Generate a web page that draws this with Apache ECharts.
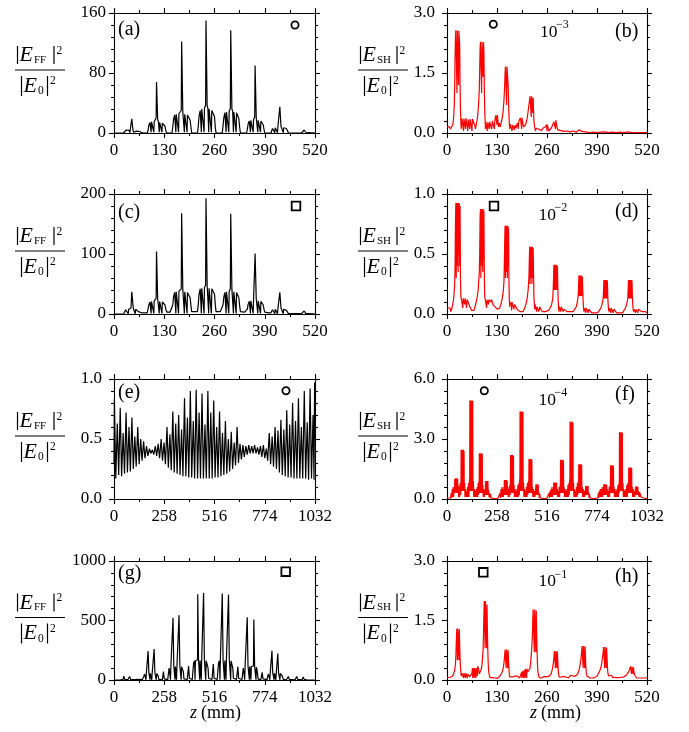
<!DOCTYPE html>
<html><head><meta charset="utf-8">
<script src="https://cdn.jsdelivr.net/npm/echarts@6/dist/echarts.min.js"></script>
<style>html,body{margin:0;padding:0;background:#fff}#c{width:689px;height:732px}</style>
</head><body><div id="c"></div>
<script>
// ---------- tick labels ----------
const xTicks520 = [0,130,260,390,520];
const xTicks1032 = [0,258,516,774,1032];
const yTicksA = [0,80,160];
const yTicksB = [0,1.5,3.0];
const yTicksC = [0,100,200];
const yTicksD = [0,0.5,1.0];
const yTicksE = [0,0.5,1.0];
const yTicksF = [0,3.0,6.0];
const yTicksG = [0,500,1000];
const yTicksH = [0,1.5,3.0];
const panelLabels = ['(a)','(b)','(c)','(d)','(e)','(f)','(g)','(h)'];
const scaleExp = {b:'\u22123', d:'\u22122', f:'\u22124', h:'\u22121'};

// ---------- data [z (mm), value] ----------
const dataA = [[0,0],[25,0.3],[29,2],[32,4],[36,4.5],[39,3.5],[41,0.5],[42,4],[44,5],[46,19],[48,18],[49,4],[51,1],[52,2.5],[58,2.5],[60,0.3],[61,2],[66,2],[69,0.3],[75,0],
[86,0],[88,3],[90,10],[93,14],[95,15],[96,1],[97,15],[101,16],[103,1],[104,15],[107,16],[109,20],[110,68],[111.5,67],[113,18],[115,15],[117,1],[118,14],[122,13],[124,1],[125,13],[129,12],[132,9],[134,3],[137,0],
[150,0],[152,8],[154,18],[157,24],[159,25],[160,1],[161,25],[165,26],[167,1],[168,26],[172,27],[174,30],[175,122],[176.5,121],[178,28],[180,26],[182,1],[183,25],[187,24],[189,1],[190,24],[194,22],[197,17],[199,8],[201,0],
[216,0],[218,9],[220,22],[223,30],[225,31],[226,1],[227,32],[231,32],[233,1],[234,33],[236,34],[237,37],[238,150],[239.5,149],[241,36],[243,33],[245,1],[246,32],[250,31],[252,1],[253,30],[257,28],[260,22],[262,8],[264,0],
[280,0],[282,9],[284,20],[287,27],[289,28],[290,1],[291,28],[295,29],[297,1],[298,29],[300,30],[301,33],[302,137],[303.5,136],[305,32],[307,29],[309,1],[310,28],[314,28],[316,1],[317,27],[321,25],[323,19],[325,8],[327,0],
[343,0],[345,5],[347,12],[350,16],[352,17],[353,1],[354,17],[358,18],[360,1],[361,18],[363,19],[364,21],[365,90],[366.5,89],[368,20],[370,18],[372,1],[373,17],[377,17],[379,1],[380,16],[384,15],[386,11],[388,5],[390,0],
[406,0],[408,3],[410,6],[413,7],[415,7],[416,0.5],[417,7],[421,7.5],[423,0.5],[424,8],[428,9],[429,35],[430.5,34],[432,9],[436,7],[438,0.5],[439,7],[443,7],[446,6],[449,3],[451,0],
[485,0],[489,1],[492,4],[494,4],[496,1],[500,0],[520,0]];

const dataC = [[0,0],[25,0],[27,3],[30,7],[34,8],[37,0.5],[38,8],[42,8],[44,10],[46,37],[48,36],[50,9],[53,8],[55,0.5],[56,8],[60,7],[63,4],[66,2],[72,2],[80,2],
[86,2],[88,8],[90,15],[93,20],[95,21],[96,1],[97,21],[101,22],[103,1],[104,22],[107,23],[109,26],[110,104],[111.5,103],[113,25],[115,22],[117,1],[118,21],[122,21],[124,1],[125,20],[129,19],[132,15],[134,8],[137,3],[145,3],
[150,3],[152,15],[154,28],[157,36],[159,37],[160,1],[161,37],[165,38],[167,1],[168,38],[172,39],[174,42],[175,168],[176.5,167],[178,41],[180,38],[182,1],[183,37],[187,37],[189,1],[190,36],[194,34],[197,27],[199,14],[201,4],[210,4],
[216,4],[218,16],[220,33],[223,42],[225,43],[226,1],[227,43],[231,44],[233,1],[234,44],[236,45],[237,48],[238,193],[239.5,192],[241,47],[243,44],[245,1],[246,43],[250,43],[252,1],[253,42],[257,40],[260,33],[262,16],[264,4],[275,4],
[280,4],[282,15],[284,28],[287,36],[289,37],[290,1],[291,37],[295,38],[297,1],[298,38],[300,39],[301,42],[302,167],[303.5,166],[305,41],[307,38],[309,1],[310,37],[314,37],[316,1],[317,36],[321,34],[323,27],[325,14],[327,4],[338,3],
[343,3],[345,8],[347,16],[350,21],[352,22],[353,1],[354,22],[358,23],[360,1],[361,23],[363,24],[364,26],[365,101],[366.5,100],[368,25],[370,23],[372,1],[373,22],[377,22],[379,1],[380,21],[384,20],[386,15],[388,8],[390,3],[400,2],
[406,2],[408,5],[410,7],[413,8],[415,8],[416,0.5],[417,8],[421,8],[423,0.5],[424,9],[428,10],[429,36],[430.5,35],[432,10],[436,8],[438,0.5],[439,8],[443,8],[446,6],[449,3],[451,1],
[485,0.5],[489,1],[492,5],[494,5],[496,1],[500,0],[520,0]];

const dataE = [[0,0.3],[2,0.83],[9,0.17],[17,0.63],[24,0.2],[32,0.76],[39,0.19],[47,0.55],[54,0.21],[62,0.72],[69,0.22],[77,0.6],[84,0.23],[92,0.68],[99,0.25],
[107,0.52],[114,0.27],[122,0.6],[129,0.29],[137,0.5],[144,0.32],[152,0.48],[159,0.34],[167,0.44],[174,0.36],[182,0.42],[189,0.38],[197,0.41],[204,0.37],
[212,0.44],[219,0.36],[227,0.46],[234,0.34],[242,0.5],[249,0.32],[257,0.47],[264,0.29],[272,0.6],[279,0.26],[287,0.54],[294,0.24],[302,0.73],[309,0.22],
[317,0.63],[324,0.21],[332,0.7],[339,0.2],[347,0.58],[354,0.19],[362,0.84],[369,0.19],[377,0.68],[384,0.18],[392,0.9],[399,0.18],[407,0.65],[414,0.17],
[422,0.91],[429,0.17],[437,0.72],[444,0.17],[452,0.88],[459,0.17],[467,0.62],[474,0.17],[482,0.9],[489,0.17],[497,0.72],[504,0.17],[512,0.82],[519,0.18],
[527,0.6],[534,0.18],[542,0.73],[549,0.19],[557,0.55],[564,0.2],[572,0.65],[579,0.21],[587,0.5],[594,0.23],[602,0.56],[609,0.25],[617,0.47],[624,0.28],
[632,0.6],[639,0.3],[647,0.46],[654,0.33],[662,0.45],[669,0.35],[677,0.44],[684,0.37],[692,0.45],[699,0.38],[707,0.44],[714,0.38],[722,0.45],[729,0.38],
[737,0.43],[744,0.37],[752,0.44],[759,0.35],[767,0.45],[774,0.34],[782,0.42],[789,0.32],[797,0.55],[804,0.29],[812,0.52],[819,0.27],[827,0.6],[834,0.25],
[842,0.57],[849,0.22],[857,0.66],[864,0.2],[872,0.58],[879,0.19],[887,0.74],[894,0.18],[902,0.62],[909,0.18],[917,0.8],[924,0.17],[932,0.65],[939,0.17],
[947,0.84],[954,0.17],[962,0.6],[969,0.17],[977,0.9],[984,0.17],[992,0.64],[999,0.16],[1007,0.92],[1014,0.17],[1022,0.7],[1027,0.16],[1030,0.97],[1032,0.5]];

const dataG = [[0,0],[35,1],[44,3],[48,8],[50,33],[52,31],[55,6],[72,4],[78,10],[80,30],[82,28],[85,6],[110,3],[122,6],[125,15],[127,14],[130,4],[145,3],
[150,3],[153,30],[157,50],[162,55],[164,2],[166,55],[171,56],[174,60],[175,243],[177,240],[179,60],[183,56],[185,2],[187,56],[192,57],[194,2],[196,57],[201,58],[205,62],[206,260],[208,257],[210,61],[215,56],[217,2],[219,55],[224,52],[227,35],[230,5],[235,3],
[248,3],[252,10],[254,70],[256,68],[258,10],[262,3],
[276,3],[279,50],[283,100],[288,112],[290,3],[292,112],[298,113],[302,120],[303,522],[305,518],[307,120],[311,113],[313,3],[315,113],[319,114],[321,3],[323,114],[328,115],[333,122],[334,545],[336,540],[338,120],[343,112],[345,3],[347,111],[352,105],[356,70],[359,10],[362,4],
[376,4],[380,15],[383,117],[385,114],[387,15],[391,4],
[402,4],[405,70],[409,145],[414,162],[416,3],[418,162],[424,163],[429,170],[430,720],[432,715],[434,170],[438,163],[440,3],[442,164],[446,164],[448,3],[450,164],[455,165],[459,172],[460,732],[462,728],[464,172],[469,163],[471,3],[473,162],[479,150],[483,100],[486,15],[489,4],
[503,4],[507,15],[510,134],[512,130],[514,15],[518,4],
[530,4],[533,70],[537,145],[542,162],[544,3],[546,163],[552,164],[555,170],[556,726],[558,722],[560,170],[565,164],[567,3],[569,164],[573,164],[575,3],[577,163],[582,163],[587,170],[588,718],[590,714],[592,170],[597,162],[599,3],[601,161],[606,150],[610,100],[613,15],[616,4],
[629,4],[633,15],[636,112],[638,110],[640,15],[644,4],
[657,4],[660,50],[664,100],[669,112],[671,3],[673,112],[679,113],[683,120],[684,528],[686,524],[688,120],[693,113],[695,3],[697,113],[701,113],[703,3],[705,112],[711,112],[716,118],[718,508],[720,504],[722,118],[727,110],[729,3],[731,108],[734,90],[737,50],[740,8],[743,3],
[754,3],[758,10],[761,64],[763,62],[765,10],[769,3],
[786,3],[789,30],[793,50],[798,56],[800,2],[802,56],[807,57],[810,60],[811,246],[813,242],[815,60],[820,57],[822,2],[824,57],[829,57],[831,2],[833,57],[838,58],[840,61],[841,223],[843,220],[845,60],[850,56],[852,2],[854,55],[860,50],[865,30],[869,5],[873,2],
[885,2],[892,8],[895,30],[897,28],[900,6],[930,2],[935,8],[938,30],[940,28],[943,6],[965,2],[969,6],[972,25],[974,23],[977,5],[990,1],[1032,0]];

const dataB = [[0,0.15],[3,0.12],[6,0.16],[9,0.1],[12,0.13],[15,0.2],[17,0.35],[19,0.7],[20,1.2],[21,1.9],[22,2.4],[23,2.57],[25,2.57],[26,1.0],[27,2.56],[29,2.57],[30,1.2],[31,2.55],[32,2.56],[33,2.2],[34,1.2],[35,0.6],[36,0.3],[37,0.1],[38,0.05],
[39,0.36],[42,0.37],[43,0.05],[44,0.36],[47,0.35],[48,0.1],[49,0.37],[53,0.35],[54,0.05],[55,0.34],[58,0.36],[59,0.1],[60,0.35],[64,0.34],[65,0.05],[66,0.35],[70,0.33],[72,0.2],[74,0.1],[76,0.2],[78,0.3],[80,0.45],[82,0.7],[84,1.1],[85,1.6],[86,2.1],[87,2.28],[89,2.29],[90,1.0],[91,2.28],[93,2.29],[94,1.4],[95,2.27],[96,2.0],[97,1.2],[98,0.6],[99,0.35],
[100,0.1],[101,0.28],[104,0.3],[105,0.05],[106,0.27],[109,0.3],[110,0.1],[111,0.28],[114,0.25],[116,0.1],[118,0.3],[121,0.28],[123,0.1],[125,0.35],[127,0.44],[129,0.46],[130,0.2],[131,0.45],[133,0.44],[134,0.15],[136,0.25],[138,0.15],[140,0.2],[142,0.3],[144,0.4],[146,0.55],[148,0.8],[150,1.2],[151,1.5],[152,1.66],[154,1.66],[155,0.7],[156,1.66],[158,1.65],[159,1.2],[160,0.8],[161,0.45],[162,0.25],[163,0.1],
[165,0.22],[167,0.18],[169,0.05],[171,0.2],[173,0.15],[175,0.08],[177,0.2],[179,0.12],[181,0.18],[183,0.25],[185,0.1],[187,0.3],[189,0.28],[191,0.38],[193,0.4],[194,0.1],[195,0.38],[197,0.35],[199,0.15],[201,0.1],[203,0.15],[205,0.22],[207,0.3],[209,0.4],[211,0.55],[213,0.7],[215,0.85],[216,0.92],[218,0.91],[219,0.4],[220,0.92],[222,0.9],[223,0.5],[224,0.88],[225,0.6],[226,0.3],[228,0.15],
[230,0.05],[232,0.12],[234,0.08],[236,0.15],[238,0.1],[240,0.05],[243,0.1],[246,0.06],[249,0.12],[252,0.08],[255,0.15],[257,0.2],[259,0.21],[260,0.05],[261,0.2],[263,0.12],[265,0.05],[268,0.08],[271,0.12],[274,0.18],[276,0.22],[278,0.28],[279,0.33],[281,0.33],[282,0.1],[283,0.32],[285,0.3],[286,0.15],[288,0.08],[290,0.05],
[293,0.03],[296,0.06],[300,0.02],[304,0.04],[308,0.02],[312,0.05],[316,0.07],[320,0.03],[324,0.02],[328,0.05],[332,0.03],[336,0.02],[340,0.05],[344,0.08],[347,0.09],[350,0.04],[354,0.02],[360,0.03],[370,0.01],[380,0.02],[390,0.01],[400,0.02],[410,0.03],[420,0.01],[430,0.02],[440,0.01],[450,0.02],[460,0.01],[470,0.03],[474,0.02],[480,0.01],[490,0.01],[500,0.01],[510,0.01],[520,0.01]];

const dataD = [[0,0.05],[4,0.04],[8,0.05],[10,0.02],[13,0.05],[16,0.1],[18,0.15],[20,0.25],[21,0.4],[22,0.75],[23,0.925],[24,0.3],[25,0.925],[26,0.4],[27,0.925],[28,0.92],[29,0.35],[30,0.925],[31,0.5],[32,0.92],[33,0.4],[34,0.9],[35,0.3],[36,0.15],[37,0.13],[40,0.14],[41,0.05],[42,0.13],[45,0.14],[46,0.08],[47,0.13],[50,0.12],[51,0.05],[52,0.12],[55,0.1],[58,0.07],[61,0.05],[64,0.03],[67,0.02],[70,0.03],[73,0.06],[76,0.1],[79,0.15],[81,0.2],[83,0.3],[84,0.35],[85,0.5],[86,0.8],[87,0.875],[88,0.3],[89,0.875],[90,0.4],[91,0.875],[92,0.87],[93,0.35],[94,0.875],[95,0.45],[96,0.86],[97,0.35],[98,0.15],[99,0.13],
[102,0.12],[103,0.05],[104,0.12],[107,0.13],[108,0.08],[109,0.12],[113,0.1],[116,0.12],[119,0.08],[122,0.07],[125,0.06],[128,0.05],[131,0.04],[134,0.03],[137,0.05],[140,0.08],[143,0.12],[146,0.18],[148,0.26],[149,0.4],[150,0.6],[151,0.735],[152,0.3],[153,0.735],[154,0.35],[155,0.735],[156,0.73],[157,0.3],[158,0.735],[159,0.4],[160,0.72],[161,0.3],[162,0.12],[163,0.06],[164,0.1],[167,0.08],[168,0.03],[169,0.1],[172,0.09],[174,0.04],[176,0.08],[179,0.06],[182,0.04],[186,0.05],[190,0.02],[194,0.03],[198,0.02],
[202,0.05],[205,0.08],[208,0.12],[211,0.2],[213,0.3],[214,0.45],[215,0.56],[216,0.25],[217,0.56],[218,0.3],[219,0.56],[220,0.55],[221,0.25],[222,0.56],[223,0.3],[224,0.55],[225,0.35],[226,0.15],[227,0.08],[228,0.04],[229,0.08],[232,0.07],[233,0.02],[234,0.06],[237,0.05],[239,0.02],[241,0.06],[244,0.04],[248,0.02],[252,0.01],[256,0.02],[260,0.01],[264,0.03],[268,0.05],[272,0.08],[275,0.13],[276,0.2],[277,0.3],[278,0.41],[279,0.2],[280,0.41],[281,0.2],[282,0.41],[283,0.4],[284,0.2],[285,0.41],[286,0.2],[287,0.4],[288,0.25],[289,0.12],[290,0.06],[291,0.02],[292,0.06],[295,0.05],[296,0.02],[297,0.06],
[300,0.05],[302,0.02],[304,0.04],[308,0.03],[312,0.02],[316,0.01],[320,0.02],[324,0.01],[328,0.02],[332,0.04],[336,0.06],[339,0.1],[341,0.15],[342,0.22],[343,0.32],[344,0.15],[345,0.32],[346,0.15],[347,0.32],[348,0.31],[349,0.15],[350,0.32],[351,0.15],[352,0.31],[353,0.2],[354,0.1],[355,0.05],[356,0.02],[357,0.05],[360,0.05],[361,0.01],[362,0.05],[365,0.04],[367,0.01],[369,0.04],[372,0.03],[376,0.01],[380,0.02],[384,0.01],[388,0.02],[392,0.01],[396,0.03],
[400,0.05],[403,0.08],[405,0.11],[406,0.13],[407,0.2],[408,0.284],[409,0.13],[410,0.284],[411,0.13],[412,0.284],[413,0.28],[414,0.13],[415,0.284],[416,0.13],[417,0.28],[418,0.15],[419,0.08],[420,0.04],[421,0.02],[422,0.05],[425,0.05],[426,0.01],[427,0.05],[430,0.04],[432,0.01],[434,0.04],[437,0.03],[441,0.01],[445,0.02],[449,0.01],[453,0.02],[457,0.01],[460,0.03],[464,0.05],[467,0.08],[469,0.11],[470,0.13],[471,0.2],[472,0.284],[473,0.13],[474,0.284],[475,0.13],[476,0.284],[477,0.28],[478,0.13],[479,0.284],[480,0.13],[481,0.28],[482,0.15],[483,0.08],[484,0.04],[485,0.02],[486,0.04],[489,0.04],[490,0.01],[491,0.04],[494,0.04],[496,0.01],[498,0.04],[502,0.03],[506,0.02],[510,0.02],[515,0.02],[520,0.01]];

const dataF = [[0,0.05],[10,0.08],[18,0.05],[22,0.3],[24,0.05],[27,0.5],[29,0.1],[32,0.6],[34,0.1],[37,0.5],[39,0.3],
[40,1.0],[41,1.04],[42,0.3],[43,1.04],[44,1.04],[45,0.3],[46,1.04],[47,1.04],[48,0.3],[49,1.04],[50,1.04],[51,0.3],[52,1.04],[53,1.04],[54,0.3],[55,1.0],[56,0.3],
[58,0.7],[60,0.1],[63,0.6],[65,0.1],[68,0.8],[70,0.2],[72,0.4],
[73,2.46],[74,2.46],[75,0.4],[76,2.46],[77,2.46],[78,0.4],[79,2.46],[80,2.46],[81,0.4],[82,2.46],[83,2.46],[84,0.4],[85,2.46],[86,2.46],[87,0.4],[88,2.4],[89,0.4],
[91,0.8],[93,0.1],[96,0.5],[98,0.1],[101,0.4],[103,0.1],[106,0.6],[108,0.1],[111,0.8],[113,0.1],[116,1.0],[117,0.4],
[118,4.93],[119,4.93],[120,0.4],[121,4.93],[122,4.93],[123,0.4],[124,4.93],[125,4.93],[126,0.4],[127,4.93],[128,4.93],[129,0.4],[130,4.93],[131,4.93],[132,0.4],[133,4.9],[134,0.4],
[136,0.9],[138,0.1],[141,0.5],[143,0.1],[146,0.4],[148,0.1],[151,0.5],[153,0.1],[156,0.6],[158,0.1],[161,0.8],[163,0.2],[165,0.9],[166,0.3],
[167,2.29],[168,2.29],[169,0.3],[170,2.29],[171,2.29],[172,0.3],[173,2.29],[174,2.29],[175,0.3],[176,2.29],[177,2.29],[178,0.3],[179,2.29],[180,2.29],[181,0.3],[182,2.25],[183,0.3],
[185,0.7],[187,0.1],[190,0.5],[192,0.1],[195,0.4],[197,0.2],
[199,0.9],[200,0.9],[201,0.2],[202,0.9],[203,0.9],[204,0.2],[205,0.9],[206,0.9],[207,0.2],[208,0.9],[209,0.9],[210,0.2],[211,0.9],[212,0.85],[213,0.2],
[215,0.45],[217,0.1],[220,0.3],[222,0.05],[225,0.25],[227,0.05],[230,0.15],[234,0.03],[245,0.02],[262,0.02],
[270,0.05],[274,0.3],[276,0.05],[279,0.5],[281,0.1],[284,0.6],[286,0.1],[289,0.5],[291,0.1],[294,0.6],[295,0.3],
[296,0.95],[297,0.95],[298,0.2],[299,0.95],[300,0.95],[301,0.2],[302,0.95],[303,0.95],[304,0.2],[305,0.95],[306,0.95],[307,0.2],[308,0.95],[309,0.95],[310,0.2],[311,0.9],[312,0.2],
[314,0.6],[316,0.1],[319,0.5],[321,0.1],[324,0.7],[326,0.2],[327,0.4],
[328,2.2],[329,2.2],[330,0.3],[331,2.2],[332,2.2],[333,0.3],[334,2.2],[335,2.2],[336,0.3],[337,2.2],[338,2.2],[339,0.3],[340,2.2],[341,2.2],[342,0.3],[343,2.15],[344,0.3],
[346,0.7],[348,0.1],[351,0.5],[353,0.1],[356,0.4],[358,0.1],[361,0.5],[363,0.1],[366,0.7],[368,0.1],[371,0.8],[373,0.2],[375,1.0],[376,0.4],
[377,4.38],[378,4.38],[379,0.4],[380,4.38],[381,4.38],[382,0.4],[383,4.38],[384,4.38],[385,0.4],[386,4.38],[387,4.38],[388,0.4],[389,4.38],[390,4.38],[391,0.4],[392,4.35],[393,0.4],
[395,0.8],[397,0.1],[400,0.5],[402,0.1],[405,0.4],[407,0.1],[410,0.6],[412,0.1],[415,0.8],[417,0.2],[420,0.9],[422,0.3],
[423,2.0],[424,2.0],[425,0.3],[426,2.0],[427,2.0],[428,0.3],[429,2.0],[430,2.0],[431,0.3],[432,2.0],[433,2.0],[434,0.3],[435,2.0],[436,2.0],[437,0.3],[438,1.95],[439,0.3],
[441,0.6],[443,0.1],[446,0.5],[448,0.1],[451,0.4],[453,0.1],[456,0.3],[458,0.2],
[459,0.74],[460,0.74],[461,0.2],[462,0.74],[463,0.74],[464,0.2],[465,0.74],[466,0.74],[467,0.2],[468,0.74],[469,0.74],[470,0.2],[471,0.7],[472,0.2],
[474,0.35],[476,0.05],[479,0.25],[481,0.05],[484,0.1],[488,0.02],[500,0.02],
[515,0.02],[524,0.05],[527,0.3],[529,0.05],[532,0.4],[534,0.1],[537,0.5],[539,0.1],[542,0.6],[544,0.1],[547,0.5],[549,0.2],[550,0.3],
[551,0.82],[552,0.82],[553,0.2],[554,0.82],[555,0.82],[556,0.2],[557,0.82],[558,0.82],[559,0.2],[560,0.82],[561,0.82],[562,0.2],[563,0.82],[564,0.82],[565,0.2],[566,0.8],[567,0.2],
[569,0.5],[571,0.1],[574,0.4],[576,0.1],[579,0.6],[581,0.1],[584,0.7],[585,0.3],
[586,1.96],[587,1.96],[588,0.3],[589,1.96],[590,1.96],[591,0.3],[592,1.96],[593,1.96],[594,0.3],[595,1.96],[596,1.96],[597,0.3],[598,1.96],[599,1.96],[600,0.3],[601,1.9],[602,0.3],
[604,0.6],[606,0.1],[609,0.5],[611,0.1],[614,0.4],[616,0.1],[619,0.5],[621,0.1],[624,0.7],[626,0.1],[629,0.8],[631,0.2],[633,1.0],[634,0.4],
[635,3.86],[636,3.86],[637,0.4],[638,3.86],[639,3.86],[640,0.4],[641,3.86],[642,3.86],[643,0.4],[644,3.86],[645,3.86],[646,0.4],[647,3.86],[648,3.86],[649,0.4],[650,3.8],[651,0.4],
[653,0.8],[655,0.1],[658,0.5],[660,0.1],[663,0.4],[665,0.1],[668,0.6],[670,0.1],[673,0.8],[675,0.2],[678,0.9],[679,0.3],
[680,1.74],[681,1.74],[682,0.3],[683,1.74],[684,1.74],[685,0.3],[686,1.74],[687,1.74],[688,0.3],[689,1.74],[690,1.74],[691,0.3],[692,1.74],[693,1.74],[694,0.3],[695,1.7],[696,0.3],
[698,0.6],[700,0.1],[703,0.5],[705,0.1],[708,0.4],[710,0.1],[713,0.3],[715,0.2],
[716,0.65],[717,0.65],[718,0.2],[719,0.65],[720,0.65],[721,0.2],[722,0.65],[723,0.65],[724,0.2],[725,0.65],[726,0.65],[727,0.2],[728,0.65],[729,0.2],
[731,0.35],[733,0.05],[736,0.25],[738,0.05],[741,0.1],[745,0.02],[758,0.02],
[768,0.02],[778,0.05],[781,0.3],[783,0.05],[786,0.4],[788,0.1],[791,0.5],[793,0.1],[796,0.5],[798,0.1],[801,0.6],[803,0.1],[806,0.5],[808,0.2],
[809,0.74],[810,0.74],[811,0.2],[812,0.74],[813,0.74],[814,0.2],[815,0.74],[816,0.74],[817,0.2],[818,0.74],[819,0.74],[820,0.2],[821,0.74],[822,0.74],[823,0.2],[824,0.7],[825,0.2],
[827,0.5],[829,0.1],[832,0.4],[834,0.1],[837,0.6],[839,0.1],[842,0.7],[843,0.3],
[844,1.69],[845,1.69],[846,0.3],[847,1.69],[848,1.69],[849,0.3],[850,1.69],[851,1.69],[852,0.3],[853,1.69],[854,1.69],[855,0.3],[856,1.69],[857,1.69],[858,0.3],[859,1.65],[860,0.3],
[862,0.6],[864,0.1],[867,0.5],[869,0.1],[872,0.4],[874,0.1],[877,0.5],[879,0.1],[882,0.7],[884,0.1],[887,0.8],[889,0.3],
[890,3.34],[891,3.34],[892,0.4],[893,3.34],[894,3.34],[895,0.4],[896,3.34],[897,3.34],[898,0.4],[899,3.34],[900,3.34],[901,0.4],[902,3.34],[903,3.34],[904,0.4],[905,3.3],[906,0.4],
[908,0.8],[910,0.1],[913,0.5],[915,0.1],[918,0.4],[920,0.1],[923,0.5],[925,0.1],[928,0.7],[930,0.1],[933,0.8],[936,0.9],[937,0.3],
[938,1.57],[939,1.57],[940,0.3],[941,1.57],[942,1.57],[943,0.3],[944,1.57],[945,1.57],[946,0.3],[947,1.57],[948,1.57],[949,0.3],[950,1.57],[951,1.57],[952,0.3],[953,1.55],[954,0.3],
[956,0.6],[958,0.1],[961,0.5],[963,0.1],[966,0.4],[968,0.1],[971,0.3],[972,0.2],
[973,0.62],[974,0.62],[975,0.2],[976,0.62],[977,0.62],[978,0.2],[979,0.62],[980,0.62],[981,0.2],[982,0.62],[983,0.62],[984,0.2],[985,0.62],[986,0.2],
[988,0.4],[990,0.1],[993,0.35],[995,0.1],[997,0.3],[999,0.35],[1001,0.1],[1004,0.2],[1007,0.05],[1011,0.1],[1016,0.05],[1021,0.06],[1026,0.03],[1032,0.02]];

const dataH = [[0,0.06],[4,0.04],[8,0.07],[12,0.05],[15,0.1],[18,0.15],[20,0.25],[22,0.4],[23,0.6],[24,0.9],[25,1.2],[26,1.3],[27,0.5],[28,1.3],[30,1.3],[31,0.5],[32,1.28],[33,0.9],[34,0.55],[35,0.35],[36,0.2],[37,0.1],[38,0.05],[39,0.17],[42,0.18],[43,0.05],[44,0.17],[47,0.18],[48,0.05],[49,0.17],[52,0.16],[53,0.05],[54,0.15],[57,0.14],[59,0.08],[61,0.05],[63,0.1],[65,0.18],[66,0.3],[67,0.05],[68,0.3],[70,0.28],[71,0.05],[72,0.3],[74,0.25],[75,0.05],[76,0.3],[78,0.33],[79,0.1],[80,0.35],[82,0.28],[84,0.15],[86,0.12],[88,0.18],[90,0.3],[92,0.5],[94,0.8],[95,1.2],[96,1.7],[97,1.99],[98,1.99],[99,0.8],
[100,1.99],[102,1.98],[103,0.8],[104,1.9],[105,1.3],[106,0.8],[107,0.45],[108,0.25],[110,0.12],[112,0.06],[115,0.04],[118,0.06],[121,0.03],[124,0.05],[127,0.06],[130,0.04],[133,0.06],[136,0.08],[139,0.12],[142,0.17],[145,0.25],[147,0.35],[149,0.5],[150,0.65],[151,0.77],[153,0.77],[154,0.3],[155,0.77],[157,0.76],[158,0.3],[159,0.75],[160,0.5],[161,0.3],[162,0.15],[163,0.08],[165,0.06],[168,0.1],[170,0.08],[172,0.04],[174,0.09],[177,0.1],[180,0.06],[183,0.1],[186,0.08],[189,0.05],[192,0.1],[194,0.2],[195,0.05],[196,0.22],[198,0.25],[199,0.05],
[200,0.25],[202,0.2],[203,0.05],[204,0.28],[206,0.3],[207,0.05],[208,0.28],[210,0.2],[212,0.15],[214,0.2],[216,0.3],[218,0.5],[220,0.75],[222,1.1],[223,1.5],[224,1.78],[226,1.78],[227,0.7],[228,1.78],[230,1.77],[231,0.7],[232,1.75],[233,1.3],[234,0.8],[235,0.45],[236,0.25],[238,0.12],[240,0.06],[243,0.08],[246,0.05],[249,0.07],[252,0.09],[255,0.05],[258,0.08],[261,0.06],[264,0.09],[267,0.1],[270,0.14],[272,0.2],[274,0.28],[276,0.4],[278,0.55],[279,0.73],[281,0.73],[282,0.3],[283,0.73],[285,0.72],[286,0.3],[287,0.72],[288,0.5],[289,0.3],[290,0.15],[292,0.07],[295,0.05],[298,0.08],
[301,0.06],[304,0.09],[307,0.1],[310,0.07],[313,0.1],[316,0.06],[319,0.1],[322,0.12],[325,0.08],[328,0.1],[331,0.12],[334,0.1],[337,0.13],[340,0.15],[342,0.2],[344,0.28],[346,0.38],[348,0.5],[350,0.7],[351,0.855],[353,0.855],[354,0.3],[355,0.855],[357,0.85],[358,0.3],[359,0.85],[360,0.6],[361,0.35],[362,0.2],[364,0.1],[366,0.06],[369,0.08],[372,0.05],[375,0.07],[378,0.05],[381,0.08],[384,0.06],[387,0.08],[390,0.1],[393,0.14],[396,0.2],[399,0.28],
[402,0.4],[404,0.55],[406,0.7],[407,0.83],[409,0.83],[410,0.3],[411,0.83],[413,0.83],[414,0.3],[415,0.82],[416,0.6],[417,0.35],[418,0.2],[420,0.1],[422,0.07],[425,0.1],[428,0.12],[430,0.06],[433,0.1],[436,0.07],[439,0.05],[442,0.06],[445,0.04],[448,0.06],[451,0.05],[454,0.07],[457,0.06],[460,0.08],[463,0.1],[466,0.12],[469,0.15],[472,0.2],[475,0.28],[477,0.34],[479,0.34],[480,0.15],[481,0.34],[483,0.33],[484,0.15],[485,0.32],[486,0.2],[488,0.12],[490,0.08],[493,0.05],[496,0.07],[500,0.05],[504,0.06],[508,0.05],[512,0.07],[516,0.05],[520,0.06]];

// ---------- layout ----------
const FONT = '"Liberation Serif","Times New Roman",serif';
const BLACK = '#000', RED = '#ff0000';
const panels = [
  {g:[114,13,201,120],  xt:xTicks520,  yt:yTicksA, dec:0, data:dataA, color:BLACK},
  {g:[447,13,200,120],  xt:xTicks520,  yt:yTicksB, dec:1, data:dataB, color:RED},
  {g:[114,194,201,120], xt:xTicks520,  yt:yTicksC, dec:0, data:dataC, color:BLACK},
  {g:[447,194,200,120], xt:xTicks520,  yt:yTicksD, dec:1, data:dataD, color:RED},
  {g:[114,379,201,120], xt:xTicks1032, yt:yTicksE, dec:1, data:dataE, color:BLACK},
  {g:[447,379,200,120], xt:xTicks1032, yt:yTicksF, dec:1, data:dataF, color:RED},
  {g:[114,561,201,119], xt:xTicks1032, yt:yTicksG, dec:0, data:dataG, color:BLACK},
  {g:[447,561,200,119], xt:xTicks520,  yt:yTicksH, dec:1, data:dataH, color:RED}
];

const grids = [], xAxes = [], yAxes = [], series = [];
const lineSt = {color:'#000', width:1.1};
panels.forEach((p, i) => {
  grids.push({left:p.g[0], top:p.g[1], width:p.g[2], height:p.g[3], containLabel:false});
  const xmin = p.xt[0], xmax = p.xt[p.xt.length-1], xint = p.xt[1]-p.xt[0];
  const ymin = p.yt[0], ymax = p.yt[p.yt.length-1], yint = p.yt[1]-p.yt[0];
  ['bottom','top'].forEach((pos, k) => {
    xAxes.push({type:'value', gridIndex:i, position:pos, min:xmin, max:xmax, interval:xint,
      axisLine:{show:true, onZero:false, lineStyle:lineSt},
      axisTick:{show:true, inside:false, length:5, lineStyle:lineSt},
      minorTick:{show:true, splitNumber:2, length:3, lineStyle:lineSt},
      splitLine:{show:false}, minorSplitLine:{show:false},
      axisLabel:{show:k===0, color:'#000', fontFamily:FONT, fontSize:17, margin:9, formatter:v=>String(v)}
    });
  });
  ['left','right'].forEach((pos, k) => {
    yAxes.push({type:'value', gridIndex:i, position:pos, min:ymin, max:ymax, interval:yint,
      axisLine:{show:true, onZero:false, lineStyle:lineSt},
      axisTick:{show:true, inside:false, length:5, lineStyle:lineSt},
      minorTick:{show:true, splitNumber:5, length:3, lineStyle:lineSt},
      splitLine:{show:false}, minorSplitLine:{show:false},
      axisLabel:{show:k===0, color:'#000', fontFamily:FONT, fontSize:17, margin:(p.dec ? 12 : 8), formatter:v=>v.toFixed(p.dec)}
    });
  });
  series.push({type:'line', xAxisIndex:2*i, yAxisIndex:2*i, data:p.data, showSymbol:false, symbol:'none',
    lineStyle:{color:p.color, width:1.2}, silent:true, animation:false, z:3});
});

// ---------- graphic annotations ----------
const G = [];
function txt(x, y, s, font, align){ G.push({type:'text', x:x, y:y, silent:true, style:{text:s, font:font, fill:'#000', textAlign:align||'left', textVerticalAlign:'middle'}}); }
function ln(x1,y1,x2,y2,w){ G.push({type:'line', silent:true, shape:{x1:x1,y1:y1,x2:x2,y2:y2}, style:{stroke:'#000', lineWidth:w||1}}); }
function frac(X0, Y0, sub){
  const fE = 'italic 22px '+FONT, fs = '11px '+FONT, fsup = '11.5px '+FONT;
  ln(X0, Y0, X0+50, Y0, 1);
  ln(X0+2.5, Y0-24, X0+2.5, Y0-6, 1.2);
  txt(X0+4.5, Y0-14.5, 'E', fE);
  txt(X0+19, Y0-10, sub, fs);
  ln(X0+39, Y0-24, X0+39, Y0-6, 1.2);
  txt(X0+41.5, Y0-19.5, '2', fsup);
  ln(X0+6.5, Y0+6, X0+6.5, Y0+26, 1.2);
  txt(X0+8.5, Y0+16, 'E', fE);
  txt(X0+23, Y0+21, '0', fsup);
  ln(X0+32.5, Y0+6, X0+32.5, Y0+26, 1.2);
  txt(X0+35, Y0+11, '2', fsup);
}
panels.forEach((p, i) => {
  const left = (i % 2 === 0);
  const Y0 = p.g[1] + p.g[3]/2 - 3;
  frac(left ? 15 : 358, Y0, left ? 'FF' : 'SH');
});
// panel labels
const lab = [[118,30],[615,31.7],[118,212.7],[615,211.7],[118,392.7],[615,395],[118,573.3],[615,576.7]];
panelLabels.forEach((s, i) => txt(lab[i][0], lab[i][1], s, '20px '+FONT));
// power-of-ten factors
const pw = [['b',540,32.3],['d',538.5,215],['f',538.5,400],['h',538.5,581.7]];
pw.forEach(q => { txt(q[1], q[2], '10', '17.5px '+FONT); txt(q[1]+16, q[2]-7, scaleExp[q[0]], '12px '+FONT); });
// markers: circle / square
function circ(cx, cy){ G.push({type:'circle', silent:true, shape:{cx:cx, cy:cy, r:3.6}, style:{fill:'none', stroke:'#000', lineWidth:1.8}}); }
function sq(cx, cy){ G.push({type:'rect', silent:true, shape:{x:cx-4.3, y:cy-4.3, width:8.6, height:8.6}, style:{fill:'none', stroke:'#000', lineWidth:1.8}}); }
circ(295, 25); circ(493.3, 24.3); sq(296, 206); sq(494, 206);
circ(286, 390.7); circ(484.3, 390.7); sq(285.7, 571.7); sq(483.3, 572.3);
// x-axis titles
function zmm(cx, cy){
  txt(cx-16, cy, 'z', 'italic 18px '+FONT, 'right');
  txt(cx-12, cy, '(mm)', '18px '+FONT, 'left');
}
zmm(213, 713); zmm(553, 713);

const chart = echarts.init(document.getElementById('c'), null, {renderer:'canvas'});
chart.setOption({animation:false, backgroundColor:'#fff', grid:grids, xAxis:xAxes, yAxis:yAxes, series:series, graphic:G});
</script></body></html>
